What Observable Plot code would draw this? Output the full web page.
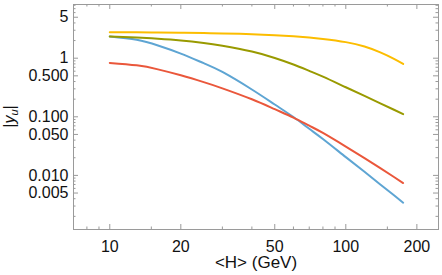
<!DOCTYPE html>
<html><head><meta charset="utf-8">
<script src="https://cdn.jsdelivr.net/npm/d3@7"></script>
<script src="https://cdn.jsdelivr.net/npm/@observablehq/plot@0.6"></script>
<style>body{margin:0;background:#fff}</style>
</head><body><div id="chart"></div>
<script>
// <H> values (GeV)
const H = [10, 13, 16, 20, 25, 30, 40, 50, 60, 70, 80, 100, 120, 140, 160, 175];
// |y_u| for four curves
const yellowVals = [2.78, 2.77, 2.75, 2.72, 2.68, 2.64, 2.57, 2.47, 2.36, 2.25, 2.13, 1.88, 1.585, 1.26, 0.977, 0.80];
const oliveVals  = [2.35, 2.25, 2.15, 2.01, 1.82, 1.63, 1.30, 1.01, 0.782, 0.608, 0.484, 0.319, 0.227, 0.170, 0.132, 0.111];
const redVals    = [0.83, 0.755, 0.645, 0.51, 0.39, 0.306, 0.199, 0.135, 0.097, 0.0705, 0.053, 0.031, 0.0197, 0.0133, 0.0094, 0.0074];
const blueVals   = [2.35, 2.06, 1.65, 1.20, 0.822, 0.582, 0.292, 0.162, 0.099, 0.0624, 0.0418, 0.0205, 0.0115, 0.0070, 0.00457, 0.00342];

const seriesNames = ["s1", "s2", "s3", "s4"];
const seriesColors = ["#5ea5d3", "#ea573b", "#999a00", "#fcbd00"];
const seriesValues = [blueVals, redVals, oliveVals, yellowVals];

// axis ticks
const xMajor = [10, 20, 50, 100, 200];
const xTickLabels = ["10", "20", "50", "100", "200"];
const xMinor = [8, 9, 15, 30, 40, 60, 70, 80, 90, 150];
const yMajor = [0.005, 0.01, 0.05, 0.1, 0.5, 1, 5];
const yTickLabels = ["0.005", "0.010", "0.050", "0.100", "0.500", "1", "5"];
const yMinor = [0.002, 0.003, 0.004, 0.006, 0.007, 0.008, 0.009,
                0.02, 0.03, 0.04, 0.06, 0.07, 0.08, 0.09,
                0.2, 0.3, 0.4, 0.6, 0.7, 0.8, 0.9,
                2, 3, 4, 6, 7, 8];
const xLabel = "<H> (GeV)";

const W = 442, HT = 275, mL = 73, mR = 4, mT = 4, mB = 46;
const pw = W - mL - mR, ph = HT - mT - mB;
const frameColor = "#9a9a9a";
const textColor = "#111";

const rows = [];
seriesNames.forEach((name, s) => H.forEach((h, i) => rows.push({h, v: seriesValues[s][i], name})));

const tickMarks = (vals, len) => [
  Plot.tickX(vals, {x: d => d, stroke: frameColor, insetTop: ph - len}),
  Plot.tickX(vals, {x: d => d, stroke: frameColor, insetBottom: ph - len}),
];
const tickMarksY = (vals, len) => [
  Plot.tickY(vals, {y: d => d, stroke: frameColor, insetRight: pw - len}),
  Plot.tickY(vals, {y: d => d, stroke: frameColor, insetLeft: pw - len}),
];

const svg = Plot.plot({
  width: W, height: HT,
  marginLeft: mL, marginRight: mR, marginTop: mT, marginBottom: mB,
  style: {fontFamily: "'Liberation Sans', Arial, sans-serif", fontSize: "16px", color: textColor, background: "white"},
  x: {type: "log", domain: [7.02, 247], axis: null},
  y: {type: "log", domain: [0.001193, 8.25], axis: null},
  color: {domain: seriesNames, range: seriesColors},
  marks: [
    Plot.frame({stroke: frameColor}),
    ...tickMarks(xMajor, 5), ...tickMarks(xMinor, 2.5),
    ...tickMarksY(yMajor, 5), ...tickMarksY(yMinor, 2.5),
    Plot.text(xMajor, {x: d => d, frameAnchor: "bottom", lineAnchor: "middle", dy: 17, text: (d, i) => xTickLabels[i], fontSize: 16, fill: textColor}),
    Plot.text(yMajor, {y: d => d, frameAnchor: "left", lineAnchor: "middle", dx: -5, textAnchor: "end", text: (d, i) => yTickLabels[i], fontSize: 16, fill: textColor}),
    Plot.line(rows, {x: "h", y: "v", z: "name", stroke: "name", strokeWidth: 2, curve: "natural"}),
    Plot.text([xLabel], {frameAnchor: "bottom", lineAnchor: "middle", dy: 33, text: d => d, fontSize: 17, fill: textColor})
  ]
});

const yl = d3.select(svg).append("text")
  .attr("transform", `translate(11,${mT + ph / 2}) rotate(-90)`)
  .attr("text-anchor", "middle")
  .attr("dominant-baseline", "middle")
  .attr("font-size", 16)
  .attr("fill", textColor);
yl.append("tspan").text("|");
yl.append("tspan").attr("font-style", "italic").text("y");
yl.append("tspan").attr("font-style", "italic").attr("font-size", 11).attr("dy", 4).text("u");
yl.append("tspan").attr("dy", -4).text("|");

document.getElementById("chart").appendChild(svg);
</script>
</body></html>
